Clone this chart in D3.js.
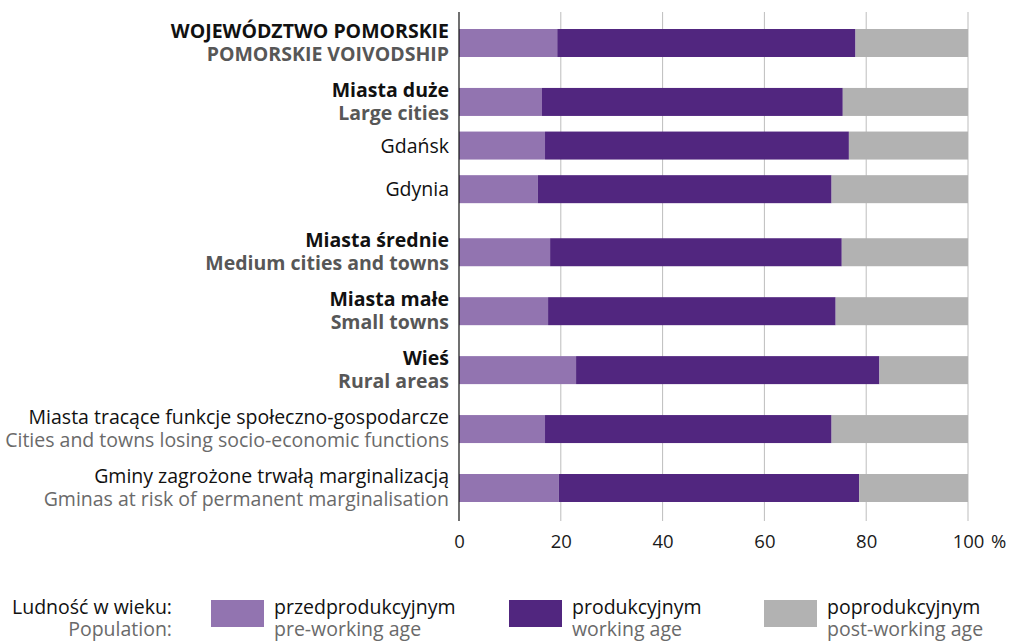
<!DOCTYPE html>
<html>
<head>
<meta charset="utf-8">
<script src="https://cdn.jsdelivr.net/npm/d3@7"></script>
<style>
  html, body { margin: 0; padding: 0; background: #fff; }
  svg { display: block; font-family: "Open Sans", "Noto Sans", sans-serif; }
</style>
</head>
<body>
<svg id="chart" width="1012" height="642"></svg>
<script>
// Population by economic age group, share of total (%)
const labelsPl = [
  "WOJEWÓDZTWO POMORSKIE",
  "Miasta duże",
  "Gdańsk",
  "Gdynia",
  "Miasta średnie",
  "Miasta małe",
  "Wieś",
  "Miasta tracące funkcje społeczno-gospodarcze",
  "Gminy zagrożone trwałą marginalizacją"
];
const labelsEn = [
  "POMORSKIE VOIVODSHIP",
  "Large cities",
  "",
  "",
  "Medium cities and towns",
  "Small towns",
  "Rural areas",
  "Cities and towns losing socio-economic functions",
  "Gminas at risk of permanent marginalisation"
];
// row kind: main groups, individual cities, thematic areas
const rowKind = ["group", "group", "city", "city", "group", "group", "group", "area", "area"];

const preWorking  = [19.3, 16.3, 16.9, 15.5, 17.9, 17.5, 23.0, 16.9, 19.6];
const working     = [58.6, 59.1, 59.7, 57.7, 57.3, 56.5, 59.6, 56.3, 59.0];
const postWorking = [22.1, 24.6, 23.4, 26.8, 24.8, 26.0, 17.4, 26.8, 21.4];

const xTicks = [0, 20, 40, 60, 80, 100];

const seriesKeys   = ["pre", "work", "post"];
const legendPl     = ["przedprodukcyjnym", "produkcyjnym", "poprodukcyjnym"];
const legendEn     = ["pre-working age", "working age", "post-working age"];
const legendTitle  = ["Ludność w wieku:", "Population:"];

const colors = d3.scaleOrdinal().domain(seriesKeys).range(["#9274b0", "#51267f", "#b2b2b2"]);

const rows = labelsPl.map((pl, i) => ({
  pl, en: labelsEn[i], kind: rowKind[i],
  pre: preWorking[i], work: working[i], post: postWorking[i]
}));

// vertical slots: cities sit tighter, a wider gap follows them
let acc = 0;
rows.forEach((r, i) => {
  if (i > 0) {
    if (r.kind === "city") acc += 0.74;
    else if (rows[i - 1].kind === "city") acc += 1.07;
    else acc += 1;
  }
  r.slot = acc;
});

const svg = d3.select("#chart");
const x = d3.scaleLinear().domain([0, 100]).range([459, 968]);
const y = d3.scaleLinear().domain([0, acc]).range([43, 488]);
const barH = 28;
const plotTop = 12, plotBottom = 521;
const fs = 19.5;

// gridlines
svg.append("g")
  .selectAll("line")
  .data(xTicks.filter(t => t > 0))
  .join("line")
  .attr("x1", d => x(d)).attr("x2", d => x(d))
  .attr("y1", plotTop).attr("y2", plotBottom)
  .attr("stroke", "#bdbdbd").attr("stroke-width", 1);

// stacked bars
const stack = d3.stack().keys(seriesKeys)(rows);
svg.append("g")
  .selectAll("g")
  .data(stack)
  .join("g")
  .attr("fill", d => colors(d.key))
  .selectAll("rect")
  .data(d => d)
  .join("rect")
  .attr("x", d => x(d[0]))
  .attr("width", d => x(d[1]) - x(d[0]))
  .attr("y", d => y(d.data.slot) - barH / 2)
  .attr("height", barH);

// value axis
const axis = d3.axisBottom(x).tickValues(xTicks).tickSize(0).tickPadding(0);
const axG = svg.append("g").attr("transform", `translate(0,${plotBottom})`).call(axis);
axG.select(".domain").remove();
axG.selectAll("text")
  .attr("y", 27).attr("dy", 0)
  .attr("font-size", fs - 1).attr("fill", "#1a1a1a")
  .attr("font-family", "'Open Sans', sans-serif");
svg.append("text")
  .attr("x", x(100) + 23).attr("y", plotBottom + 27)
  .attr("font-size", fs - 1).attr("fill", "#1a1a1a")
  .text("%");

// category axis line
svg.append("line")
  .attr("x1", x(0)).attr("x2", x(0))
  .attr("y1", plotTop).attr("y2", plotBottom)
  .attr("stroke", "#111").attr("stroke-width", 1.2);

// row labels
const labelX = 449;
const lab = svg.append("g").attr("text-anchor", "end").attr("font-size", fs);
rows.forEach(r => {
  const cy = y(r.slot);
  const bold = r.kind === "group";
  if (r.en) {
    lab.append("text")
      .attr("x", labelX).attr("y", cy - 5)
      .attr("font-weight", bold ? 700 : 400)
      .attr("fill", "#111")
      .text(r.pl);
    lab.append("text")
      .attr("x", labelX).attr("y", cy + 18)
      .attr("font-weight", bold ? 700 : 400)
      .attr("fill", bold ? "#575757" : "#6a6a6a")
      .text(r.en);
  } else {
    lab.append("text")
      .attr("x", labelX).attr("y", cy + 7)
      .attr("fill", "#111")
      .text(r.pl);
  }
});

// legend
const leg = svg.append("g").attr("font-size", fs);
leg.append("text").attr("x", 172).attr("y", 614).attr("text-anchor", "end")
  .attr("fill", "#111").text(legendTitle[0]);
leg.append("text").attr("x", 172).attr("y", 636).attr("text-anchor", "end")
  .attr("fill", "#6a6a6a").text(legendTitle[1]);

const legendLeft = [211, 509, 764];
const items = leg.selectAll("g.item").data(seriesKeys).join("g")
  .attr("class", "item")
  .attr("transform", (d, i) => `translate(${legendLeft[i]},600)`);
items.append("rect").attr("width", 53).attr("height", 27).attr("fill", d => colors(d));
items.append("text").attr("x", 63).attr("y", 14)
  .attr("fill", "#111").text((d, i) => legendPl[i]);
items.append("text").attr("x", 63).attr("y", 36)
  .attr("fill", "#6a6a6a").text((d, i) => legendEn[i]);
</script>
</body>
</html>
